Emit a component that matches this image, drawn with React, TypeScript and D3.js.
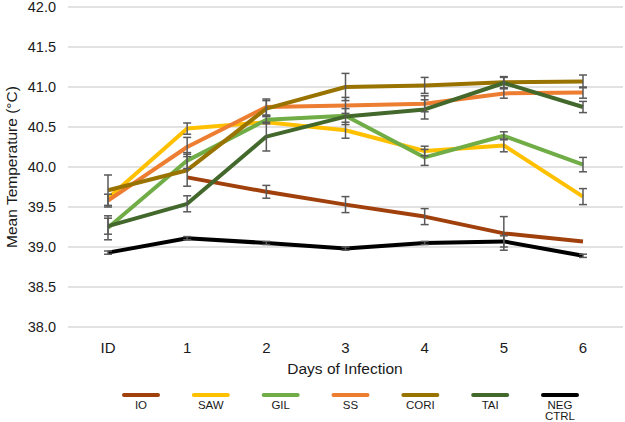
import React from "react";
import * as d3 from "d3";

const categories = ["ID", "1", "2", "3", "4", "5", "6"];
const yTicks = [38.0, 38.5, 39.0, 39.5, 40.0, 40.5, 41.0, 41.5, 42.0];

const seriesNames = ["IO", "SAW", "GIL", "SS", "CORI", "TAI", "NEG CTRL"];
const seriesColors = ["#a0410d", "#ffc000", "#70ad47", "#ed7d31", "#997300", "#43682b", "#000000"];

const ioValues = [null, 39.87, 39.69, 39.53, 39.38, 39.17, 39.07];
const sawValues = [39.61, 40.48, 40.56, 40.46, 40.2, 40.27, 39.63];
const gilValues = [39.24, 40.08, 40.59, 40.64, 40.12, 40.39, 40.03];
const ssValues = [39.58, 40.25, 40.75, 40.77, 40.79, 40.92, 40.93];
const coriValues = [39.71, 39.96, 40.73, 41.0, 41.02, 41.06, 41.07];
const taiValues = [39.26, 39.54, 40.38, 40.63, 40.72, 41.05, 40.75];
const negValues = [38.93, 39.11, 39.05, 38.98, 39.05, 39.07, 38.89];

const ioErr = [null, null, 0.08, 0.1, 0.1, 0.21, null];
const sawErr = [null, 0.07, null, 0.1, 0.06, 0.08, 0.1];
const gilErr = [0.15, 0.1, 0.05, null, 0.1, 0.05, 0.09];
const ssErr = [0.08, 0.12, 0.1, 0.1, 0.1, 0.06, 0.07];
const coriErr = [0.19, 0.2, 0.1, 0.17, 0.1, 0.07, 0.08];
const taiErr = [0.1, 0.1, 0.18, 0.1, 0.12, 0.07, 0.07];
const negErr = [0.02, 0.02, 0.02, 0.02, 0.02, 0.07, 0.02];

const allValues = [ioValues, sawValues, gilValues, ssValues, coriValues, taiValues, negValues];
const allErrs = [ioErr, sawErr, gilErr, ssErr, coriErr, taiErr, negErr];

const FONT = "'Liberation Sans', Arial, Helvetica, sans-serif";

export default function App() {
  const W = 625;
  const H = 422;
  const plotLeft = 68;
  const plotRight = 623;
  const x = d3.scalePoint<string>().domain(categories).range([108, 583]);
  const y = d3.scaleLinear().domain([38, 42]).range([327, 7]);
  const legendX = d3.scalePoint<string>().domain(seriesNames).range([141, 560]);

  const line = d3
    .line<{ c: string; v: number | null }>()
    .defined((d) => d.v != null)
    .x((d) => x(d.c) as number)
    .y((d) => y(d.v as number));

  return (
    <svg
      width={W}
      height={H}
      style={{ position: "absolute", left: 0, top: 0, background: "#fff" }}
      fontFamily={FONT}
    >
      {yTicks.map((t) => (
        <g key={t}>
          <line x1={plotLeft} x2={plotRight} y1={y(t)} y2={y(t)} stroke="#d9d9d9" strokeWidth={1.5} />
          <text x={56} y={y(t)} dy="0.35em" textAnchor="end" fontSize={14.5} fill="#1a1a1a">
            {t.toFixed(1)}
          </text>
        </g>
      ))}
      {categories.map((c) => (
        <text key={c} x={x(c)} y={353} textAnchor="middle" fontSize={15} fill="#1a1a1a">
          {c}
        </text>
      ))}
      <text x={345} y={374} textAnchor="middle" fontSize={15.5} fill="#1a1a1a">
        Days of Infection
      </text>
      <text
        transform={`translate(17,${y(40)}) rotate(-90)`}
        textAnchor="middle"
        fontSize={15.5}
        fill="#1a1a1a"
      >
        Mean Temperature (°C)
      </text>

      {allValues.map((vals, i) => (
        <path
          key={seriesNames[i]}
          d={line(categories.map((c, j) => ({ c, v: vals[j] }))) || ""}
          fill="none"
          stroke={seriesColors[i]}
          strokeWidth={4}
          strokeLinejoin="round"
        />
      ))}

      {allErrs.map((errs, i) =>
        errs.map((e, j) => {
          const v = allValues[i][j];
          if (e == null || v == null) return null;
          const cx = x(categories[j]) as number;
          const y1 = y(v + e);
          const y2 = y(v - e);
          return (
            <g key={`${i}-${j}`} stroke="#595959" strokeWidth={1.5}>
              <line x1={cx} x2={cx} y1={y1} y2={y2} />
              <line x1={cx - 4} x2={cx + 4} y1={y1} y2={y1} />
              <line x1={cx - 4} x2={cx + 4} y1={y2} y2={y2} />
            </g>
          );
        })
      )}

      {seriesNames.map((n, i) => {
        const cx = legendX(n) as number;
        const parts = n.split(" ");
        return (
          <g key={n}>
            <line x1={cx - 17} x2={cx + 17} y1={395} y2={395} stroke={seriesColors[i]} strokeWidth={4} strokeLinecap="round" />
            {parts.map((p, k) => (
              <text key={p} x={cx} y={408.5 + k * 11.5} textAnchor="middle" fontSize={11.5} fill="#1a1a1a">
                {p}
              </text>
            ))}
          </g>
        );
      })}
    </svg>
  );
}
